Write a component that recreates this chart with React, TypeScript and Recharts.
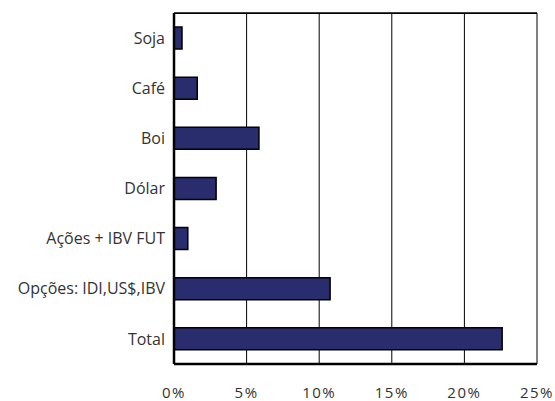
import { BarChart, Bar, XAxis, YAxis, CartesianGrid } from "recharts"

const categories = ["Soja", "Café", "Boi", "Dólar", "Ações + IBV FUT", "Opções: IDI,US$,IBV", "Total"]
const shares = [0.55, 1.6, 5.85, 2.9, 0.95, 10.75, 22.6]
const xTicks = [0, 5, 10, 15, 20, 25]

const data = categories.map((name, i) => ({ name, value: shares[i] }))

const font = "'Open Sans', sans-serif"
const W = 555
const H = 401
const margin = { top: 12, right: 18, bottom: 7, left: 0 }
const yAxisWidth = 174

export default function App() {
  return (
    <div style={{ position: "absolute", left: 0, top: 0, width: W, height: H, background: "#fff" }}>
      <BarChart width={W} height={H} data={data} layout="vertical" margin={margin}>
        <CartesianGrid
          stroke="#000"
          strokeWidth={1}
          horizontalCoordinatesGenerator={({ offset }) => [offset.top + 0.5]}
        />
        <XAxis
          xAxisId="top"
          type="number"
          orientation="top"
          domain={[0, 25]}
          height={1}
          tick={false}
          tickLine={false}
          axisLine={{ stroke: "#000", strokeWidth: 1.5 }}
        />
        <XAxis
          type="number"
          domain={[0, 25]}
          ticks={xTicks}
          tickFormatter={(v) => `${v}%`}
          height={30}
          axisLine={{ stroke: "#000", strokeWidth: 2.5 }}
          tickLine={false}
          tickMargin={17}
          tick={{ fill: "#333", fontSize: 15, fontFamily: font, letterSpacing: 1.5 }}
        />
        <YAxis
          type="category"
          dataKey="name"
          width={yAxisWidth}
          axisLine={{ stroke: "#000", strokeWidth: 2.5 }}
          tickLine={false}
          tickMargin={3}
          interval={0}
          tick={{ fill: "#333", fontSize: 16, fontFamily: font }}
        />
        <Bar dataKey="value" fill="#292c6d" stroke="#000" strokeWidth={1.5} barSize={22} isAnimationActive={false} />
      </BarChart>
    </div>
  )
}
